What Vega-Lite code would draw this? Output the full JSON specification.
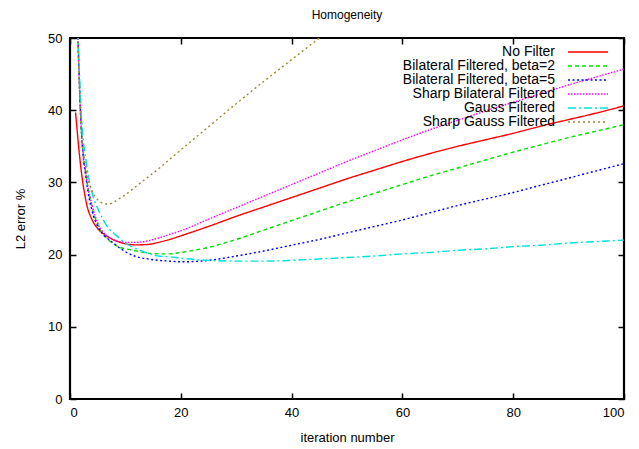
{
  "$schema": "https://vega.github.io/schema/vega-lite/v6.json",
  "autosize": {"type": "none"},
  "padding": {"left": 70, "top": 38, "right": 15, "bottom": 50},
  "width": 554,
  "height": 361,
  "title": {"text": "Homogeneity", "font": "Liberation Sans", "fontSize": 12, "fontWeight": "normal", "color": "#000", "offset": 10},
  "config": {
    "view": {"stroke": "#000", "strokeWidth": 2.2},
    "axis": {"grid": false, "domain": false, "tickColor": "#000", "tickWidth": 1.5, "tickSize": 6, "offset": -6, "labelFont": "Liberation Sans", "labelFontSize": 13, "labelColor": "#000", "titleFont": "Liberation Sans", "titleFontSize": 13, "titleFontWeight": "normal", "titleColor": "#000"}
  },
  "datasets": {
    "curves": [
      {"iteration": 1, "series": "No Filter", "error": 39.7},
      {"iteration": 2, "series": "No Filter", "error": 31.8},
      {"iteration": 3, "series": "No Filter", "error": 27.0},
      {"iteration": 4, "series": "No Filter", "error": 24.8},
      {"iteration": 5, "series": "No Filter", "error": 23.6},
      {"iteration": 6, "series": "No Filter", "error": 22.9},
      {"iteration": 7, "series": "No Filter", "error": 22.4},
      {"iteration": 8, "series": "No Filter", "error": 22.0},
      {"iteration": 9, "series": "No Filter", "error": 21.7},
      {"iteration": 10, "series": "No Filter", "error": 21.5},
      {"iteration": 12, "series": "No Filter", "error": 21.35},
      {"iteration": 14, "series": "No Filter", "error": 21.4},
      {"iteration": 16, "series": "No Filter", "error": 21.7},
      {"iteration": 18, "series": "No Filter", "error": 22.1},
      {"iteration": 20, "series": "No Filter", "error": 22.6},
      {"iteration": 25, "series": "No Filter", "error": 23.9},
      {"iteration": 30, "series": "No Filter", "error": 25.3},
      {"iteration": 35, "series": "No Filter", "error": 26.6},
      {"iteration": 40, "series": "No Filter", "error": 27.9},
      {"iteration": 45, "series": "No Filter", "error": 29.2},
      {"iteration": 50, "series": "No Filter", "error": 30.5},
      {"iteration": 55, "series": "No Filter", "error": 31.7},
      {"iteration": 60, "series": "No Filter", "error": 32.9},
      {"iteration": 65, "series": "No Filter", "error": 34.0},
      {"iteration": 70, "series": "No Filter", "error": 35.0},
      {"iteration": 75, "series": "No Filter", "error": 35.9},
      {"iteration": 80, "series": "No Filter", "error": 36.8},
      {"iteration": 85, "series": "No Filter", "error": 37.8},
      {"iteration": 90, "series": "No Filter", "error": 38.7},
      {"iteration": 95, "series": "No Filter", "error": 39.6},
      {"iteration": 100, "series": "No Filter", "error": 40.6},

      {"iteration": 1, "series": "Bilateral Filtered, beta=2", "error": 62},
      {"iteration": 2, "series": "Bilateral Filtered, beta=2", "error": 38},
      {"iteration": 3, "series": "Bilateral Filtered, beta=2", "error": 30.5},
      {"iteration": 4, "series": "Bilateral Filtered, beta=2", "error": 26.5},
      {"iteration": 5, "series": "Bilateral Filtered, beta=2", "error": 24.2},
      {"iteration": 6, "series": "Bilateral Filtered, beta=2", "error": 22.8},
      {"iteration": 7, "series": "Bilateral Filtered, beta=2", "error": 22.0},
      {"iteration": 8, "series": "Bilateral Filtered, beta=2", "error": 21.4},
      {"iteration": 9, "series": "Bilateral Filtered, beta=2", "error": 21.0},
      {"iteration": 10, "series": "Bilateral Filtered, beta=2", "error": 20.8},
      {"iteration": 12, "series": "Bilateral Filtered, beta=2", "error": 20.5},
      {"iteration": 14, "series": "Bilateral Filtered, beta=2", "error": 20.2},
      {"iteration": 16, "series": "Bilateral Filtered, beta=2", "error": 20.1},
      {"iteration": 18, "series": "Bilateral Filtered, beta=2", "error": 20.1},
      {"iteration": 20, "series": "Bilateral Filtered, beta=2", "error": 20.3},
      {"iteration": 25, "series": "Bilateral Filtered, beta=2", "error": 21.0},
      {"iteration": 30, "series": "Bilateral Filtered, beta=2", "error": 22.1},
      {"iteration": 35, "series": "Bilateral Filtered, beta=2", "error": 23.4},
      {"iteration": 40, "series": "Bilateral Filtered, beta=2", "error": 24.7},
      {"iteration": 45, "series": "Bilateral Filtered, beta=2", "error": 26.0},
      {"iteration": 50, "series": "Bilateral Filtered, beta=2", "error": 27.3},
      {"iteration": 55, "series": "Bilateral Filtered, beta=2", "error": 28.5},
      {"iteration": 60, "series": "Bilateral Filtered, beta=2", "error": 29.7},
      {"iteration": 65, "series": "Bilateral Filtered, beta=2", "error": 30.9},
      {"iteration": 70, "series": "Bilateral Filtered, beta=2", "error": 32.0},
      {"iteration": 75, "series": "Bilateral Filtered, beta=2", "error": 33.1},
      {"iteration": 80, "series": "Bilateral Filtered, beta=2", "error": 34.2},
      {"iteration": 85, "series": "Bilateral Filtered, beta=2", "error": 35.2},
      {"iteration": 90, "series": "Bilateral Filtered, beta=2", "error": 36.2},
      {"iteration": 95, "series": "Bilateral Filtered, beta=2", "error": 37.1},
      {"iteration": 100, "series": "Bilateral Filtered, beta=2", "error": 38.0},

      {"iteration": 1, "series": "Bilateral Filtered, beta=5", "error": 62},
      {"iteration": 2, "series": "Bilateral Filtered, beta=5", "error": 38},
      {"iteration": 3, "series": "Bilateral Filtered, beta=5", "error": 30},
      {"iteration": 4, "series": "Bilateral Filtered, beta=5", "error": 26.0},
      {"iteration": 5, "series": "Bilateral Filtered, beta=5", "error": 23.9},
      {"iteration": 6, "series": "Bilateral Filtered, beta=5", "error": 22.8},
      {"iteration": 7, "series": "Bilateral Filtered, beta=5", "error": 22.1},
      {"iteration": 8, "series": "Bilateral Filtered, beta=5", "error": 21.5},
      {"iteration": 9, "series": "Bilateral Filtered, beta=5", "error": 20.9},
      {"iteration": 10, "series": "Bilateral Filtered, beta=5", "error": 20.4},
      {"iteration": 12, "series": "Bilateral Filtered, beta=5", "error": 19.7},
      {"iteration": 14, "series": "Bilateral Filtered, beta=5", "error": 19.4},
      {"iteration": 16, "series": "Bilateral Filtered, beta=5", "error": 19.2},
      {"iteration": 18, "series": "Bilateral Filtered, beta=5", "error": 19.1},
      {"iteration": 20, "series": "Bilateral Filtered, beta=5", "error": 19.0},
      {"iteration": 25, "series": "Bilateral Filtered, beta=5", "error": 19.2},
      {"iteration": 30, "series": "Bilateral Filtered, beta=5", "error": 19.8},
      {"iteration": 35, "series": "Bilateral Filtered, beta=5", "error": 20.5},
      {"iteration": 40, "series": "Bilateral Filtered, beta=5", "error": 21.3},
      {"iteration": 45, "series": "Bilateral Filtered, beta=5", "error": 22.1},
      {"iteration": 50, "series": "Bilateral Filtered, beta=5", "error": 23.0},
      {"iteration": 55, "series": "Bilateral Filtered, beta=5", "error": 23.9},
      {"iteration": 60, "series": "Bilateral Filtered, beta=5", "error": 24.8},
      {"iteration": 65, "series": "Bilateral Filtered, beta=5", "error": 25.8},
      {"iteration": 70, "series": "Bilateral Filtered, beta=5", "error": 26.8},
      {"iteration": 75, "series": "Bilateral Filtered, beta=5", "error": 27.7},
      {"iteration": 80, "series": "Bilateral Filtered, beta=5", "error": 28.6},
      {"iteration": 85, "series": "Bilateral Filtered, beta=5", "error": 29.6},
      {"iteration": 90, "series": "Bilateral Filtered, beta=5", "error": 30.6},
      {"iteration": 95, "series": "Bilateral Filtered, beta=5", "error": 31.6},
      {"iteration": 100, "series": "Bilateral Filtered, beta=5", "error": 32.6},

      {"iteration": 1, "series": "Sharp Bilateral Filtered", "error": 62},
      {"iteration": 2, "series": "Sharp Bilateral Filtered", "error": 38},
      {"iteration": 3, "series": "Sharp Bilateral Filtered", "error": 30.5},
      {"iteration": 4, "series": "Sharp Bilateral Filtered", "error": 26.8},
      {"iteration": 5, "series": "Sharp Bilateral Filtered", "error": 24.4},
      {"iteration": 6, "series": "Sharp Bilateral Filtered", "error": 23.1},
      {"iteration": 7, "series": "Sharp Bilateral Filtered", "error": 22.4},
      {"iteration": 8, "series": "Sharp Bilateral Filtered", "error": 22.0},
      {"iteration": 9, "series": "Sharp Bilateral Filtered", "error": 21.8},
      {"iteration": 10, "series": "Sharp Bilateral Filtered", "error": 21.7},
      {"iteration": 12, "series": "Sharp Bilateral Filtered", "error": 21.7},
      {"iteration": 14, "series": "Sharp Bilateral Filtered", "error": 21.9},
      {"iteration": 16, "series": "Sharp Bilateral Filtered", "error": 22.3},
      {"iteration": 18, "series": "Sharp Bilateral Filtered", "error": 22.8},
      {"iteration": 20, "series": "Sharp Bilateral Filtered", "error": 23.3},
      {"iteration": 25, "series": "Sharp Bilateral Filtered", "error": 24.9},
      {"iteration": 30, "series": "Sharp Bilateral Filtered", "error": 26.5},
      {"iteration": 35, "series": "Sharp Bilateral Filtered", "error": 28.1},
      {"iteration": 40, "series": "Sharp Bilateral Filtered", "error": 29.7},
      {"iteration": 45, "series": "Sharp Bilateral Filtered", "error": 31.3},
      {"iteration": 50, "series": "Sharp Bilateral Filtered", "error": 32.9},
      {"iteration": 55, "series": "Sharp Bilateral Filtered", "error": 34.4},
      {"iteration": 60, "series": "Sharp Bilateral Filtered", "error": 35.9},
      {"iteration": 65, "series": "Sharp Bilateral Filtered", "error": 37.3},
      {"iteration": 70, "series": "Sharp Bilateral Filtered", "error": 38.6},
      {"iteration": 75, "series": "Sharp Bilateral Filtered", "error": 39.9},
      {"iteration": 80, "series": "Sharp Bilateral Filtered", "error": 41.1},
      {"iteration": 85, "series": "Sharp Bilateral Filtered", "error": 42.3},
      {"iteration": 90, "series": "Sharp Bilateral Filtered", "error": 43.5},
      {"iteration": 95, "series": "Sharp Bilateral Filtered", "error": 44.6},
      {"iteration": 100, "series": "Sharp Bilateral Filtered", "error": 45.7},

      {"iteration": 1, "series": "Gauss Filtered", "error": 62},
      {"iteration": 2, "series": "Gauss Filtered", "error": 40},
      {"iteration": 3, "series": "Gauss Filtered", "error": 32.5},
      {"iteration": 4, "series": "Gauss Filtered", "error": 28.5},
      {"iteration": 5, "series": "Gauss Filtered", "error": 26.4},
      {"iteration": 6, "series": "Gauss Filtered", "error": 24.8},
      {"iteration": 7, "series": "Gauss Filtered", "error": 23.6},
      {"iteration": 8, "series": "Gauss Filtered", "error": 22.9},
      {"iteration": 9, "series": "Gauss Filtered", "error": 22.2},
      {"iteration": 10, "series": "Gauss Filtered", "error": 21.6},
      {"iteration": 12, "series": "Gauss Filtered", "error": 20.8},
      {"iteration": 14, "series": "Gauss Filtered", "error": 20.2},
      {"iteration": 16, "series": "Gauss Filtered", "error": 19.8},
      {"iteration": 18, "series": "Gauss Filtered", "error": 19.7},
      {"iteration": 20, "series": "Gauss Filtered", "error": 19.5},
      {"iteration": 25, "series": "Gauss Filtered", "error": 19.2},
      {"iteration": 30, "series": "Gauss Filtered", "error": 19.1},
      {"iteration": 35, "series": "Gauss Filtered", "error": 19.1},
      {"iteration": 40, "series": "Gauss Filtered", "error": 19.2},
      {"iteration": 45, "series": "Gauss Filtered", "error": 19.4},
      {"iteration": 50, "series": "Gauss Filtered", "error": 19.6},
      {"iteration": 55, "series": "Gauss Filtered", "error": 19.8},
      {"iteration": 60, "series": "Gauss Filtered", "error": 20.1},
      {"iteration": 65, "series": "Gauss Filtered", "error": 20.3},
      {"iteration": 70, "series": "Gauss Filtered", "error": 20.6},
      {"iteration": 75, "series": "Gauss Filtered", "error": 20.8},
      {"iteration": 80, "series": "Gauss Filtered", "error": 21.1},
      {"iteration": 85, "series": "Gauss Filtered", "error": 21.3},
      {"iteration": 90, "series": "Gauss Filtered", "error": 21.6},
      {"iteration": 95, "series": "Gauss Filtered", "error": 21.8},
      {"iteration": 100, "series": "Gauss Filtered", "error": 22.0},

      {"iteration": 1, "series": "Sharp Gauss Filtered", "error": 62},
      {"iteration": 2, "series": "Sharp Gauss Filtered", "error": 38},
      {"iteration": 3, "series": "Sharp Gauss Filtered", "error": 31.5},
      {"iteration": 4, "series": "Sharp Gauss Filtered", "error": 28.8},
      {"iteration": 5, "series": "Sharp Gauss Filtered", "error": 27.6},
      {"iteration": 6, "series": "Sharp Gauss Filtered", "error": 27.1},
      {"iteration": 7, "series": "Sharp Gauss Filtered", "error": 27.0},
      {"iteration": 8, "series": "Sharp Gauss Filtered", "error": 27.3},
      {"iteration": 9, "series": "Sharp Gauss Filtered", "error": 27.8},
      {"iteration": 10, "series": "Sharp Gauss Filtered", "error": 28.3},
      {"iteration": 12, "series": "Sharp Gauss Filtered", "error": 29.5},
      {"iteration": 14, "series": "Sharp Gauss Filtered", "error": 30.7},
      {"iteration": 16, "series": "Sharp Gauss Filtered", "error": 31.9},
      {"iteration": 18, "series": "Sharp Gauss Filtered", "error": 33.2},
      {"iteration": 20, "series": "Sharp Gauss Filtered", "error": 34.5},
      {"iteration": 25, "series": "Sharp Gauss Filtered", "error": 37.7},
      {"iteration": 30, "series": "Sharp Gauss Filtered", "error": 40.9},
      {"iteration": 35, "series": "Sharp Gauss Filtered", "error": 44.0},
      {"iteration": 40, "series": "Sharp Gauss Filtered", "error": 47.0},
      {"iteration": 45, "series": "Sharp Gauss Filtered", "error": 50.0},
      {"iteration": 50, "series": "Sharp Gauss Filtered", "error": 53.1}
    ]
  },
  "layer": [
    {
      "data": {"name": "curves"},
      "mark": {"type": "line", "clip": true, "strokeWidth": 1.4, "interpolate": "monotone"},
      "encoding": {
        "x": {"field": "iteration", "type": "quantitative", "scale": {"domain": [0, 100], "nice": false, "zero": false},
              "axis": {"orient": "bottom", "values": [0, 20, 40, 60, 80, 100], "title": "iteration number", "labelPadding": 7, "titlePadding": 12}},
        "y": {"field": "error", "type": "quantitative", "scale": {"domain": [0, 50], "nice": false},
              "axis": {"orient": "left", "values": [0, 10, 20, 30, 40, 50], "title": "L2 error %", "labelPadding": 8, "titlePadding": 20}},
        "color": {"field": "series", "type": "nominal", "sort": null,
          "scale": {"domain": ["No Filter", "Bilateral Filtered, beta=2", "Bilateral Filtered, beta=5", "Sharp Bilateral Filtered", "Gauss Filtered", "Sharp Gauss Filtered"],
                    "range": ["#ff0000", "#00e000", "#0000ff", "#ff00ff", "#00e0e0", "#9b8b2b"]},
          "legend": {"orient": "none", "legendX": 511, "legendY": 7, "title": null, "padding": 0, "rowPadding": 0, "labelFont": "Liberation Sans", "labelFontSize": 14, "labelColor": "#000", "labelAlign": "right", "labelOffset": -40, "labelLimit": 0, "symbolType": "M-4,0H4", "symbolSize": 100, "symbolStrokeWidth": 1.5}},
        "strokeDash": {"field": "series", "type": "nominal", "sort": null,
          "scale": {"domain": ["No Filter", "Bilateral Filtered, beta=2", "Bilateral Filtered, beta=5", "Sharp Bilateral Filtered", "Gauss Filtered", "Sharp Gauss Filtered"],
                    "range": [[1, 0], [4, 3], [2, 2.5], [1.5, 1.5], [8, 3, 2, 3], [2, 3]]},
          "legend": {"orient": "none", "legendX": 511, "legendY": 7, "title": null, "padding": 0, "rowPadding": 0, "labelFont": "Liberation Sans", "labelFontSize": 14, "labelColor": "#000", "labelAlign": "right", "labelOffset": -40, "labelLimit": 0, "symbolType": "M-4,0H4", "symbolSize": 100, "symbolStrokeWidth": 1.5}}
      }
    },
    {
      "data": {"name": "curves"},
      "mark": {"type": "line", "clip": true, "opacity": 0},
      "encoding": {
        "x": {"field": "iteration", "type": "quantitative", "axis": {"orient": "top", "values": [0, 20, 40, 60, 80, 100], "labels": false, "title": null}},
        "y": {"field": "error", "type": "quantitative", "axis": {"orient": "right", "values": [0, 10, 20, 30, 40, 50], "labels": false, "title": null}},
        "detail": {"field": "series"}
      }
    }
  ],
  "resolve": {"axis": {"x": "independent", "y": "independent"}}
}
